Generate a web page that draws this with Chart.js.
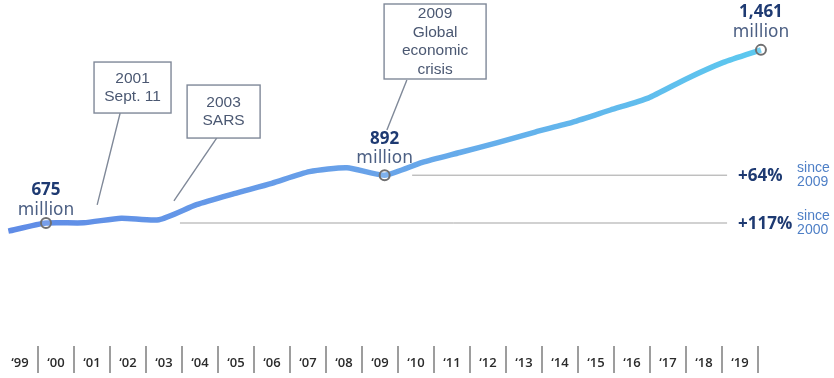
<!DOCTYPE html>
<html>
<head>
<meta charset="utf-8">
<script src="https://cdn.jsdelivr.net/npm/chart.js@4.4.1/dist/chart.umd.min.js"></script>
<style>
  html, body { margin: 0; padding: 0; background: #fff; }
  #wrap { width: 834px; height: 378px; position: relative; }
</style>
</head>
<body>
<div id="wrap"><canvas id="arrivalsChart"></canvas></div>
<script>
// international tourist arrivals, millions
const years = [1999, 2000, 2001, 2002, 2003, 2004, 2005, 2006, 2007, 2008, 2009,
  2010, 2011, 2012, 2013, 2014, 2015, 2016, 2017, 2018, 2019];
const arrivals = [638, 675, 676, 697, 690, 758, 808, 855, 908, 926, 892,
  950, 995, 1040, 1088, 1133, 1188, 1242, 1328, 1404, 1461];
const yearLabels = ["‘99", "‘00", "‘01", "‘02", "‘03", "‘04", "‘05", "‘06", "‘07", "‘08", "‘09",
  "‘10", "‘11", "‘12", "‘13", "‘14", "‘15", "‘16", "‘17", "‘18", "‘19"];
const markedYears = [2000, 2009, 2019];

const valueLabels = [
  { year: 2000, big: "675", small: "million", dyBig: -33, dySmall: -12 },
  { year: 2009, big: "892", small: "million", dyBig: -36, dySmall: -17 },
  { year: 2019, big: "1,461", small: "million", dyBig: -38, dySmall: -17 }
];

const events = [
  { lines: ["2001", "Sept. 11"], year: 2002.3, value: 1290, w: 77, h: 51,
    from: [2001.97, 1174], to: [2001.36, 757] },
  { lines: ["2003", "SARS"], year: 2004.72, value: 1181, w: 73, h: 53,
    from: [2004.54, 1061], to: [2003.4, 775] },
  { lines: ["2009", "Global", "economic", "crisis"], year: 2010.34, value: 1499, w: 102, h: 75,
    from: [2009.59, 1324], to: [2009.06, 1097] }
];

const growth = [
  { value: 892, start: 2009.73, end: 2018.1, pct: "+64%", since: "2009" },
  { value: 675, start: 2003.56, end: 2018.1, pct: "+117%", since: "2000" }
];

const mainData = years.map((yr, i) => ({ x: yr, y: arrivals[i] }));

function lineGradient(context) {
  const { chart } = context;
  const area = chart.chartArea;
  if (!area) return "#6a9ae9";
  const g = chart.ctx.createLinearGradient(area.left, 0, area.right, 0);
  g.addColorStop(0, "#5f8be6");
  g.addColorStop(0.45, "#69a3e9");
  g.addColorStop(0.92, "#5cc9ef");
  g.addColorStop(1, "#5cc9ef");
  return g;
}

const extraSets = [];
events.forEach(ev => {
  extraSets.push({
    data: [{ x: ev.from[0], y: ev.from[1] }, { x: ev.to[0], y: ev.to[1] }],
    borderColor: "#7f8898", borderWidth: 1.4, pointRadius: 0, order: 2
  });
});
growth.forEach(g => {
  extraSets.push({
    data: [{ x: g.start, y: g.value }, { x: g.end, y: g.value }],
    borderColor: "#a3a3a3", borderWidth: 1, pointRadius: 0, order: 2
  });
});

const annotations = {
  id: "annotations",
  afterDatasetsDraw(chart) {
    const { ctx } = chart;
    const xs = chart.scales.x;
    const ys = chart.scales.y;
    ctx.save();
    ctx.textAlign = "center";
    ctx.textBaseline = "middle";

    valueLabels.forEach(lbl => {
      const i = years.indexOf(lbl.year);
      const px = xs.getPixelForValue(lbl.year);
      const py = ys.getPixelForValue(arrivals[i]);
      ctx.fillStyle = "#1e3a72";
      ctx.font = "bold 17px 'Open Sans'";
      ctx.fillText(lbl.big, px, py + lbl.dyBig);
      ctx.fillStyle = "#4d6084";
      ctx.font = "17px 'DejaVu Sans'";
      ctx.fillText(lbl.small, px, py + lbl.dySmall);
    });

    events.forEach(ev => {
      const cx = xs.getPixelForValue(ev.year);
      const cy = ys.getPixelForValue(ev.value);
      ctx.fillStyle = "#fff";
      ctx.fillRect(cx - ev.w / 2, cy - ev.h / 2, ev.w, ev.h);
      ctx.strokeStyle = "#7f8898";
      ctx.lineWidth = 1.4;
      ctx.strokeRect(cx - ev.w / 2, cy - ev.h / 2, ev.w, ev.h);
      ctx.fillStyle = "#4b5872";
      ctx.font = "15.5px 'Liberation Sans'";
      const lh = 18.5;
      const top = cy - (ev.lines.length - 1) * lh / 2;
      ev.lines.forEach((t, k) => ctx.fillText(t, cx, top + k * lh));
    });

    growth.forEach(g => {
      const py = ys.getPixelForValue(g.value);
      const px = xs.getPixelForValue(g.end) + 11;
      ctx.textAlign = "left";
      ctx.fillStyle = "#1e3a72";
      ctx.font = "bold 17px 'Open Sans'";
      ctx.fillText(g.pct, px, py + 1);
      ctx.fillStyle = "#4e7fc6";
      ctx.font = "14px 'Liberation Sans'";
      ctx.fillText("since", px + 59, py - 7);
      ctx.fillText(g.since, px + 59, py + 7);
    });
    ctx.restore();
  }
};

new Chart(document.getElementById("arrivalsChart"), {
  type: "line",
  data: {
    datasets: [
      {
        data: mainData,
        borderColor: lineGradient,
        borderWidth: 5.5,
        tension: 0.2,
        order: 0,
        pointRadius: ctx => markedYears.includes(years[ctx.dataIndex]) ? 5 : 0,
        pointBorderColor: "#6f6f70",
        pointBackgroundColor: "rgba(255,255,255,0.15)",
        pointBorderWidth: 2
      },
      ...extraSets
    ]
  },
  options: {
    responsive: true,
    maintainAspectRatio: false,
    animation: false,
    layout: { autoPadding: false, padding: 0 },
    plugins: { legend: { display: false }, tooltip: { enabled: false } },
    events: [],
    scales: {
      x: { type: "linear", display: false, min: 1998.778, max: 2020.941 },
      y: { type: "linear", display: false, min: 116.6, max: 1687.4 },
      x2: {
        type: "linear",
        position: "bottom",
        min: -0.5556,
        max: 22.611,
        afterBuildTicks: axis => { axis.ticks = yearLabels.map((_, i) => ({ value: i })); },
        afterFit: axis => { axis.height = 32; axis.paddingLeft = 0; axis.paddingRight = 0; },
        border: { display: false },
        grid: {
          offset: true,
          drawOnChartArea: false,
          drawTicks: true,
          tickLength: 27,
          lineWidth: 2,
          color: ctx => ctx.index === 0 ? "rgba(0,0,0,0)" : "#9d9d9d"
        },
        ticks: {
          padding: -18,
          maxRotation: 0,
          autoSkip: false,
          color: "#2b2b2b",
          font: { family: "'Open Sans'", size: 13, weight: "600" },
          callback: value => yearLabels[value]
        }
      }
    }
  },
  plugins: [annotations]
});
</script>
</body>
</html>
